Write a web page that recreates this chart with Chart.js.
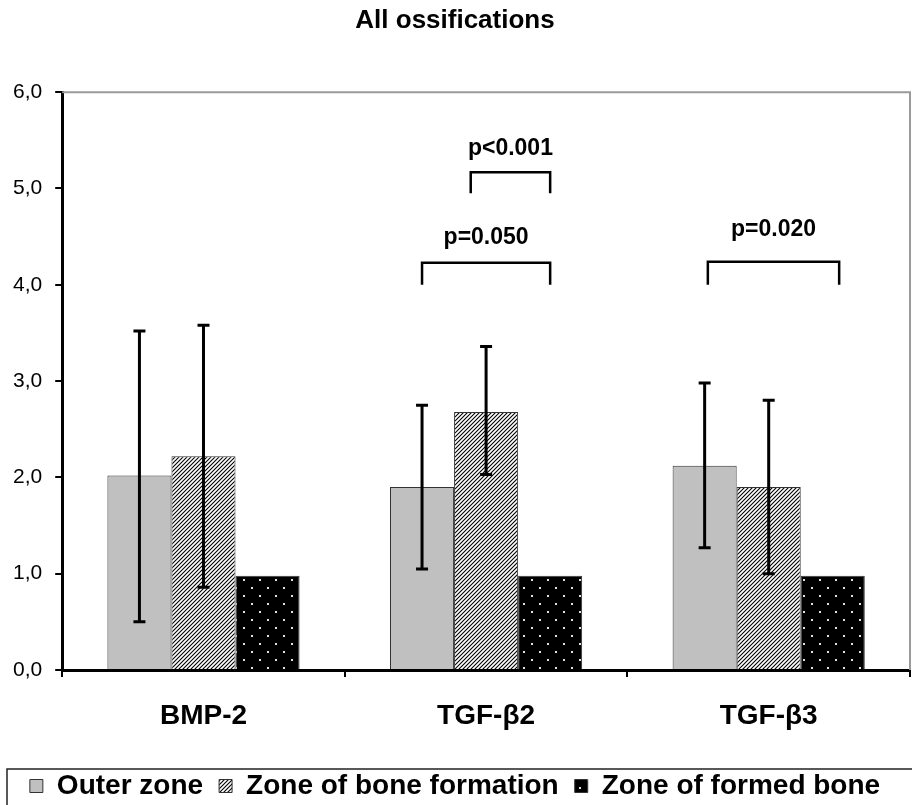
<!DOCTYPE html>
<html>
<head>
<meta charset="utf-8">
<script src="https://cdn.jsdelivr.net/npm/chart.js@4.4.1/dist/chart.umd.min.js"></script>
<style>
  html, body { margin: 0; padding: 0; background: #fff; }
</style>
</head>
<body>
<canvas id="chart" width="912" height="805"></canvas>
<script>
// data
const categories = ['BMP-2', 'TGF-\u03b22', 'TGF-\u03b23'];
const seriesNames = ['Outer zone', 'Zone of bone formation', 'Zone of formed bone'];
const outerZone = [2.02, 1.90, 2.12];
const boneFormation = [2.22, 2.68, 1.90];
const formedBone = [0.98, 0.98, 0.98];
// error bars (low / high)
const outerLow = [0.50, 1.05, 1.27];
const outerHigh = [3.52, 2.75, 2.98];
const formationLow = [0.86, 2.03, 1.00];
const formationHigh = [3.58, 3.36, 2.80];
// significance brackets
const sigLabels = ['p<0.001', 'p=0.050', 'p=0.020'];
const sigCategory = [1, 1, 2];
const sigFrom = [0.76, 0, 0.05];   // in bar steps from the first bar of the group
const sigTo = [2, 2, 2.1];
const sigLevel = [5.17, 4.23, 4.24];
const sigFoot = [4.95, 4.0, 4.0];
const sigTextLevel = [5.41, 4.49, 4.57];
const yTicks = [0, 1, 2, 3, 4, 5, 6];

const FONT = "'Liberation Sans', Arial, sans-serif";

function hatchPattern(ctx) {
    const c = document.createElement('canvas');
    c.width = 4; c.height = 4;
    const g = c.getContext('2d');
    g.fillStyle = '#fff';
    g.fillRect(0, 0, 4, 4);
    g.strokeStyle = '#000';
    g.lineWidth = 1.1;
    g.beginPath();
    g.moveTo(0, 4); g.lineTo(4, 0);
    g.moveTo(-1, 1); g.lineTo(1, -1);
    g.moveTo(3, 5); g.lineTo(5, 3);
    g.stroke();
    return ctx.createPattern(c, 'repeat');
}

function dotPattern(ctx) {
    const c = document.createElement('canvas');
    c.width = 16; c.height = 16;
    const g = c.getContext('2d');
    g.fillStyle = '#000';
    g.fillRect(0, 0, 16, 16);
    g.fillStyle = '#e0e0e0';
    g.fillRect(3, 3, 2, 2);
    g.fillRect(11, 11, 2, 2);
    return ctx.createPattern(c, 'repeat');
}

const errorBars = {
    id: 'errorBars',
    afterDatasetsDraw(chart) {
        const ctx = chart.ctx, y = chart.scales.y;
        [[0, outerLow, outerHigh], [1, formationLow, formationHigh]].forEach(([di, lo, hi]) => {
            chart.getDatasetMeta(di).data.forEach((bar, i) => {
                const top = y.getPixelForValue(hi[i]);
                const bot = y.getPixelForValue(lo[i]);
                ctx.save();
                ctx.strokeStyle = '#000';
                ctx.lineWidth = 3;
                ctx.beginPath();
                ctx.moveTo(bar.x, top); ctx.lineTo(bar.x, bot);
                ctx.moveTo(bar.x - 6, top); ctx.lineTo(bar.x + 6, top);
                ctx.moveTo(bar.x - 6, bot); ctx.lineTo(bar.x + 6, bot);
                ctx.stroke();
                ctx.restore();
            });
        });
    }
};

const extras = {
    id: 'extras',
    afterDraw(chart) {
        const ctx = chart.ctx, y = chart.scales.y, a = chart.chartArea;
        const m0 = chart.getDatasetMeta(0).data, m1 = chart.getDatasetMeta(1).data;
        ctx.save();
        // gray frame top / right of the plot
        ctx.strokeStyle = '#9a9a9a';
        ctx.lineWidth = 2;
        ctx.beginPath();
        ctx.moveTo(a.left, a.top); ctx.lineTo(a.right, a.top); ctx.lineTo(a.right, a.bottom);
        ctx.stroke();
        // significance brackets
        ctx.strokeStyle = '#000';
        ctx.lineWidth = 2.5;
        ctx.fillStyle = '#000';
        ctx.font = 'bold 23px ' + FONT;
        ctx.textAlign = 'center';
        ctx.textBaseline = 'middle';
        sigLabels.forEach((lab, i) => {
            const c = sigCategory[i];
            const step = m1[c].x - m0[c].x;
            const x1 = m0[c].x + sigFrom[i] * step;
            const x2 = m0[c].x + sigTo[i] * step;
            const yl = y.getPixelForValue(sigLevel[i]);
            const yf = y.getPixelForValue(sigFoot[i]);
            ctx.beginPath();
            ctx.moveTo(x1, yf); ctx.lineTo(x1, yl); ctx.lineTo(x2, yl); ctx.lineTo(x2, yf);
            ctx.stroke();
            ctx.fillText(lab, (x1 + x2) / 2, y.getPixelForValue(sigTextLevel[i]));
        });
        // legend frame
        const lg = chart.legend;
        ctx.strokeStyle = '#222';
        ctx.lineWidth = 1.5;
        ctx.strokeRect(lg.left + 7, lg.top + 13, chart.width, 60);
        ctx.restore();
    }
};

const ctx = document.getElementById('chart').getContext('2d');
new Chart(ctx, {
    type: 'bar',
    data: {
        labels: categories,
        datasets: [
            { label: seriesNames[0], data: outerZone, backgroundColor: '#c0c0c0', borderColor: '#333', borderWidth: 1 },
            { label: seriesNames[1], data: boneFormation, backgroundColor: hatchPattern(ctx), borderColor: '#333', borderWidth: 1 },
            { label: seriesNames[2], data: formedBone, backgroundColor: dotPattern(ctx), borderColor: '#333', borderWidth: 1 }
        ]
    },
    options: {
        responsive: false,
        animation: false,
        events: [],
        layout: { padding: { left: 0, right: 2, top: 0, bottom: -5 } },
        datasets: { bar: { categoryPercentage: 0.68, barPercentage: 1 } },
        plugins: {
            title: {
                display: true, text: 'All ossifications', color: '#000',
                font: { family: FONT, size: 26, weight: 'bold' },
                padding: { top: 5, bottom: 56 }
            },
            legend: {
                position: 'bottom',
                labels: {
                    color: '#000', font: { family: FONT, size: 28, weight: 'bold' },
                    boxWidth: 13, boxHeight: 13, padding: 16
                }
            },
            tooltip: { enabled: false }
        },
        scales: {
            x: {
                z: 1,
                grid: { offset: true, drawOnChartArea: false, color: '#000', lineWidth: 2, tickLength: 7 },
                border: { color: '#000', width: 3 },
                ticks: { color: '#000', font: { family: FONT, size: 28, weight: 'bold' }, padding: 22 },
                afterFit: s => { s.height = 86; }
            },
            y: {
                z: 1,
                min: yTicks[0], max: yTicks[yTicks.length - 1],
                afterBuildTicks: s => { s.ticks = yTicks.map(v => ({ value: v })); },
                ticks: {
                    color: '#000', font: { family: FONT, size: 21 }, padding: 13,
                    callback: v => v.toFixed(1).replace('.', ',')
                },
                grid: { drawOnChartArea: false, color: '#000', lineWidth: 2, tickLength: 7 },
                border: { color: '#000', width: 3 }
            }
        }
    },
    plugins: [errorBars, extras]
});
</script>
</body>
</html>
